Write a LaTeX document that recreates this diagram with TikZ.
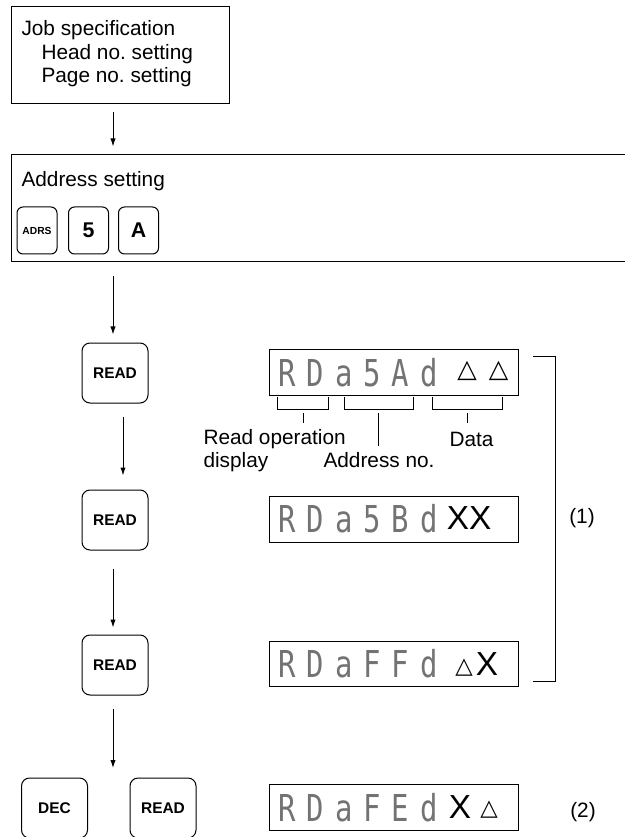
\documentclass[tikz,border=0pt]{standalone}
\usepackage{fontspec}
\setmainfont{Liberation Sans}
\newfontfamily\lcdfont[FakeStretch=0.78]{DejaVu Sans Mono}
\newfontfamily\symfont{DejaVu Sans}
\usetikzlibrary{arrows.meta,fit}
\frenchspacing

\tikzset{every picture/.style={line width=0.75pt}}
\tikzset{
  panel/.style={draw, inner sep=0pt},
  keycap/.style={draw, rounded corners=6pt, inner sep=0pt, minimum width=49.5pt, minimum height=45pt, font=\bfseries\fontsize{11.6}{13}\selectfont},
  smallkey/.style={draw, rounded corners=4.5pt, inner sep=0pt, minimum width=30pt, minimum height=35.25pt},
  lcdbox/.style={draw, inner sep=0pt},
  lcdchar/.style={anchor=base, inner sep=0pt, text=black!55, font=\lcdfont\fontsize{27.8}{30}\selectfont},
  bigx/.style={inner sep=0pt, font=\fontsize{25}{28}\selectfont},
  tri/.style={inner sep=0pt, font=\symfont\fontsize{19}{21}\selectfont},
  smalltri/.style={inner sep=0pt, font=\symfont\fontsize{17}{19}\selectfont},
  lbl/.style={anchor=base west, inner sep=0pt, font=\fontsize{15.6}{18}\selectfont},
  flow/.style={-{Latex[length=6pt,width=4pt]}},
}

\begin{document}
\begin{tikzpicture}[x=0.75pt,y=0.75pt,yscale=-1,xscale=1]
\useasboundingbox (0,0) rectangle (624,837);

% Job specification
\node[panel, fit={(11,7) (229,104)}] (job) {};
\node[lbl] (jobt1) at (21,36) {Job specification};
\node[lbl] (jobt2) at (41,60) {Head no. setting};
\node[lbl] (jobt3) at (41,83) {Page no. setting};

% Address setting
\node[panel, fit={(11,155) (628,262)}] (addr) {};
\node[lbl] (addrt) at (21,187) {Address setting};
\node[smallkey, font=\bfseries\fontsize{7.7}{9}\selectfont] (adrs) at (37,230.5) {ADRS};
\node[smallkey, font=\bfseries\fontsize{16}{18}\selectfont] (five) at (88.5,230.5) {5};
\node[smallkey, font=\bfseries\fontsize{16}{18}\selectfont] (akey) at (138.5,230.5) {A};

% Keys
\node[keycap] (read1) at (115,373) {READ};
\node[keycap] (read2) at (115,520) {READ};
\node[keycap] (read3) at (115,665) {READ};
\node[keycap] (dec) at (54.5,808) {DEC};
\node[keycap] (read4) at (163,808) {READ};

% Arrows
\coordinate (col) at (113,0);
\coordinate (colb) at (123,0);
\coordinate (a5end) at (113,768);
\draw[flow, shorten <=6pt, shorten >=6pt] (job.south -| col) -- (addr.north -| col);
\draw[flow, shorten <=10.5pt, shorten >=6pt] (addr.south -| col) -- (read1.north -| col);
\draw[flow, shorten <=9.75pt, shorten >=10.5pt] (read1.south -| colb) -- (read2.north -| colb);
\draw[flow, shorten <=13.5pt, shorten >=5.25pt] (read2.south -| col) -- (read3.north -| col);
\draw[flow, shorten <=9.75pt] (read3.south -| col) -- (a5end);

% Displays
\node[lcdbox, fit={(269,349) (518,395)}] (disp1) {};
\node[lcdbox, fit={(269,496) (518,542)}] (disp2) {};
\node[lcdbox, fit={(269,641) (518,686)}] (disp3) {};
\node[lcdbox, fit={(269,784) (518,830)}] (disp4) {};

\foreach \c [count=\i] in {R,D,a,5,A,d}
  \node[lcdchar] (lcda\i) at ({287+28.4*(\i-1)},386) {\c};
\node[tri] (tria1) at (467,371) {△};
\node[tri] (tria2) at (498.5,371) {△};

\foreach \c [count=\i] in {R,D,a,5,B,d}
  \node[lcdchar] (lcdb\i) at ({287+28.4*(\i-1)},532) {\c};
\node[bigx] (xxb) at (469,518) {XX};

\foreach \c [count=\i] in {R,D,a,F,F,d}
  \node[lcdchar] (lcdc\i) at ({287+28.4*(\i-1)},677.5) {\c};
\node[smalltri] (tric) at (464,668) {△};
\node[bigx] (xc) at (487,664) {X};

\foreach \c [count=\i] in {R,D,a,F,E,d}
  \node[lcdchar] (lcdd\i) at ({287+28.4*(\i-1)},821) {\c};
\node[bigx] (xd) at (460,807) {X};
\node[smalltri] (trid) at (489,810) {△};

% Field brackets
\draw (277,397) -- (277,409) -- (328,409) -- (328,397);
\draw (303,413) -- (303,423);
\draw (344,397) -- (344,409) -- (413,409) -- (413,397);
\draw (378,413) -- (378,446);
\draw (432,397) -- (432,409) -- (502,409) -- (502,397);
\draw (467,413) -- (467,423);
\node[lbl] (rolab1) at (203,444) {Read operation};
\node[lbl] (rolab2) at (203,467) {display};
\node[lbl] (adlab) at (323,467) {Address no.};
\node[lbl] (dalab) at (449,446) {Data};

% Group marks
\draw (533,356) -- (555,356) -- (555,681) -- (533,681);
\node[font=\fontsize{15.6}{18}\selectfont, inner sep=0pt] (grp1) at (582,518) {(1)};
\node[font=\fontsize{15.6}{18}\selectfont, inner sep=0pt] (grp2) at (583,812) {(2)};

\end{tikzpicture}
\end{document}
